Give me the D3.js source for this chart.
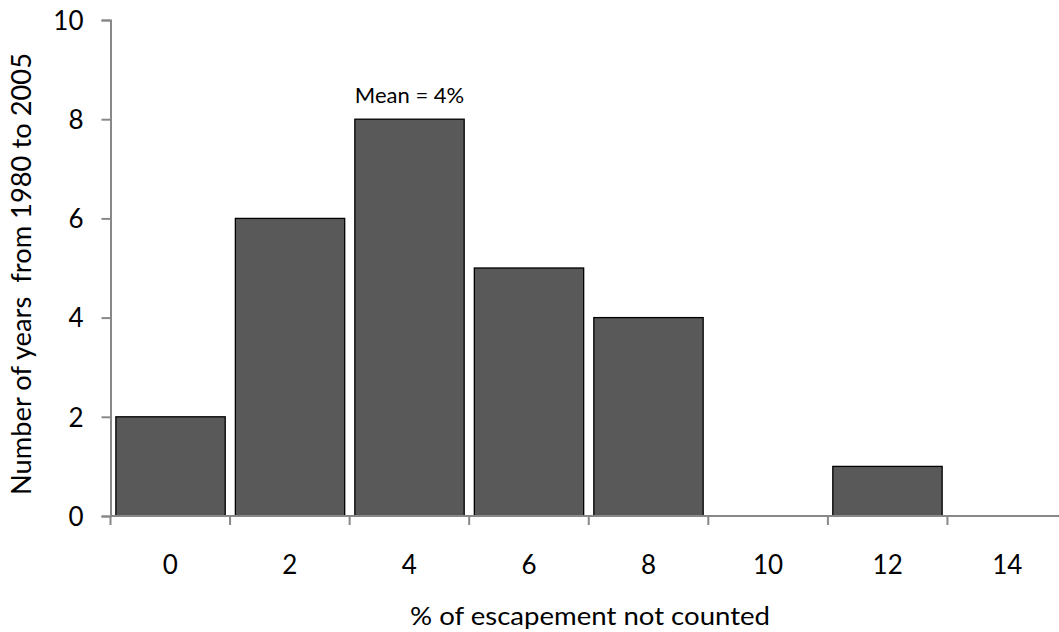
<!DOCTYPE html>
<html><head><meta charset="utf-8">
<script src="https://cdn.jsdelivr.net/npm/d3@7"></script>
<style>body{margin:0;background:#fff}svg text{font-family:Lato,"Open Sans",sans-serif;fill:#000;white-space:pre}</style>
</head><body><svg id="c" width="1059" height="632"></svg>
<script>
const categories = ["0","2","4","6","8","10","12","14"];
const counts = [2,6,8,5,4,0,1,0];
const yTicks = [0,2,4,6,8,10];
const xTitle = "% of escapement not counted";
const yTitle = "Number of years  from 1980 to 2005";
const annotation = "Mean = 4%";

const svg = d3.select("#c");
const x0 = 110.5, x1 = 1067, yTop = 20, yBot = 516;
const x = d3.scaleBand().domain(categories).range([x0, x1]).paddingInner(0.085).paddingOuter(0.045);
const y = d3.scaleLinear().domain([0,10]).range([yBot, yTop]);

// bars
svg.append("g").selectAll("rect").data(counts.map((v,i)=>({c:categories[i],v})).filter(d=>d.v>0)).join("rect")
  .attr("x", d=>x(d.c)).attr("width", x.bandwidth())
  .attr("y", d=>y(d.v)).attr("height", d=>y(0)-y(d.v))
  .attr("fill","#595959").attr("stroke","#000").attr("stroke-width",1.3);

// y axis
const ya = svg.append("g").attr("transform",`translate(${x0},0)`)
  .call(d3.axisLeft(y).tickValues(yTicks).tickSize(9).tickPadding(18).tickFormat(d3.format("d")));
ya.attr("font-size",null).attr("font-family",null);
ya.select(".domain").attr("stroke","#888").attr("stroke-width",2);
ya.selectAll(".tick line").attr("stroke","#888").attr("stroke-width",2);
ya.selectAll("text").style("font-size","26px").attr("dy","0.36em");

// x axis: ticks at band boundaries
const xa = svg.append("g").attr("transform",`translate(0,${yBot})`);
xa.append("line").attr("x1",x0).attr("x2",x1).attr("stroke","#888").attr("stroke-width",2);
const bounds = d3.range(categories.length+1).map(i=>x0 + i*(x1-x0)/categories.length);
xa.selectAll(".tk").data(bounds).join("line").attr("class","tk")
  .attr("x1",d=>d).attr("x2",d=>d).attr("y1",0).attr("y2",9).attr("stroke","#888").attr("stroke-width",2);
xa.selectAll(".lb").data(categories).join("text").attr("class","lb")
  .attr("x",(d,i)=>(bounds[i]+bounds[i+1])/2).attr("y",58)
  .attr("text-anchor","middle").style("font-size","26px").text(d=>d);

// titles
svg.append("text").attr("x",590).attr("y",625).attr("text-anchor","middle").style("font-size","25px")
  .attr("textLength",360).attr("lengthAdjust","spacingAndGlyphs").text(xTitle);
svg.append("text").attr("transform","translate(31,274) rotate(-90)").attr("text-anchor","middle").style("font-size","26px")
  .attr("textLength",442).attr("lengthAdjust","spacingAndGlyphs").text(yTitle);

// annotation
svg.append("text").attr("x", x("4")+x.bandwidth()/2).attr("y", 103)
  .attr("text-anchor","middle").style("font-size","22px").text(annotation);
</script></body></html>
